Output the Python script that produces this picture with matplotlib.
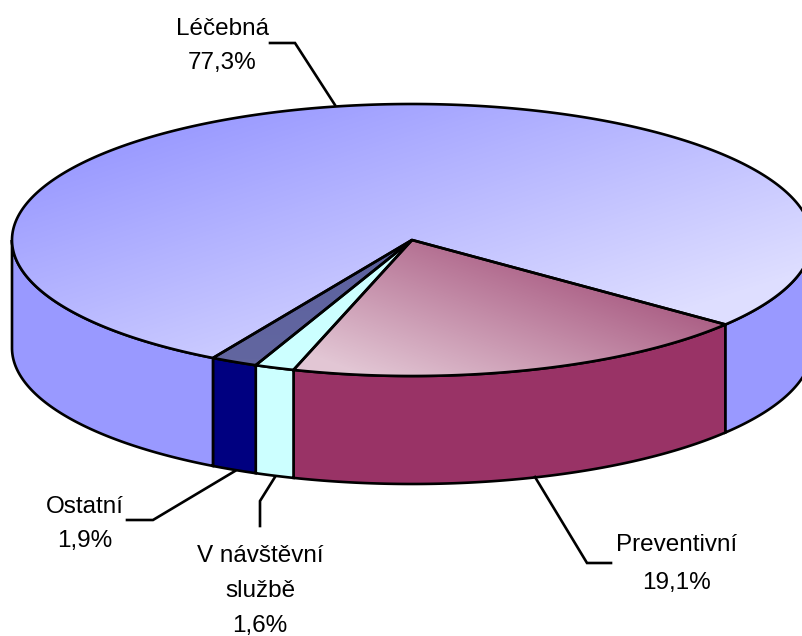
import matplotlib
matplotlib.use("Agg")
import matplotlib.pyplot as plt
from matplotlib.colors import LinearSegmentedColormap
from matplotlib.patches import Polygon
import numpy as np

# shares in the order they run clockwise from the right hand edge of the red slice
labels = ["Preventivní", "V návštěvní\nslužbě", "Ostatní", "Léčebná"]
shares = [19.1, 1.6, 1.9, 77.3]
share_text = ["19,1%", "1,6%", "1,9%", "77,3%"]
side_colors = ["#993366", "#CCFFFF", "#000080", "#9999FF"]
top_colors = [("#AB5F85", "#E2C6D4"), ("#CCFFFF", "#CCFFFF"), ("#5C619F", "#62669F"), ("#9C9CFF", "#DEDEFF")]
# direction of the shading on the top face, and the range it spans
top_shade = [((-0.35, 0.94), 50, 225), ((0, 1), 0, 636), ((0, 1), 240, 360), ((0.3, 0.95), 180, 500)]

label_pos = [(677, 564), (260, 591), (85, 524), (222, 46)]
label_spacing = [1.95, 1.75, 1.75, 1.75]
leaders = [
    [(535, 477), (587, 563), (611, 563)],
    [(275, 477), (260, 501), (260, 526)],
    [(235, 471), (153, 520), (127, 520)],
    [(335, 105), (295, 43), (270, 43)],
]

cx, cy = 412, 240
rx, ry = 400, 136
depth = 108
start_deg = 38.4
line_w = 1.9


def rim(t0, t1, n=200):
    t = np.radians(np.linspace(t0, t1, n))
    return cx + rx * np.cos(t), cy + ry * np.sin(t)


plt.rcParams["font.family"] = ["Liberation Sans", "DejaVu Sans"]
fig = plt.figure(figsize=(8.02, 6.36), dpi=100)
ax = fig.add_axes([0, 0, 1, 1])
ax.axis("off")

edges = start_deg + np.cumsum([0] + shares) / np.sum(shares) * 360

# side walls, only the part facing the viewer
for i in range(len(shares)):
    for lo, hi in [(0, 180), (360, 540)]:
        t0, t1 = max(edges[i], lo), min(edges[i + 1], hi)
        if t1 <= t0:
            continue
        x, y = rim(t0, t1)
        pts = np.r_[np.c_[x, y], np.c_[x[::-1], y[::-1] + depth]]
        ax.add_patch(Polygon(pts, closed=True, fc=side_colors[i], ec="black", lw=line_w, zorder=2))

# top faces with their gradients
xx, yy = np.meshgrid(np.arange(0, 803), np.arange(0, 637))
for i in range(len(shares)):
    x, y = rim(edges[i], edges[i + 1], 400)
    pts = np.r_[[[cx, cy]], np.c_[x, y]]
    (dx, dy), lo, hi = top_shade[i]
    grad = np.clip((xx * dx + yy * dy - lo) / (hi - lo), 0, 1)
    cmap = LinearSegmentedColormap.from_list("top%d" % i, top_colors[i])
    im = ax.imshow(grad, cmap=cmap, vmin=0, vmax=1, extent=(-0.5, 802.5, 636.5, -0.5), zorder=3, aspect="auto")
    outline = Polygon(pts, closed=True, fc="none", ec="black", lw=line_w, zorder=4)
    ax.add_patch(outline)
    im.set_clip_path(outline)

ax.set_xlim(0, 802)
ax.set_ylim(636, 0)

for i in range(len(shares)):
    lx, ly = zip(*leaders[i])
    ax.plot(lx, ly, color="black", lw=line_w, zorder=5, solid_joinstyle="miter")
    ax.text(label_pos[i][0], label_pos[i][1], labels[i] + "\n" + share_text[i], ha="center", va="center",
            fontsize=17.5, linespacing=label_spacing[i], color="black", zorder=6)

fig.savefig("out.png", dpi=100)
